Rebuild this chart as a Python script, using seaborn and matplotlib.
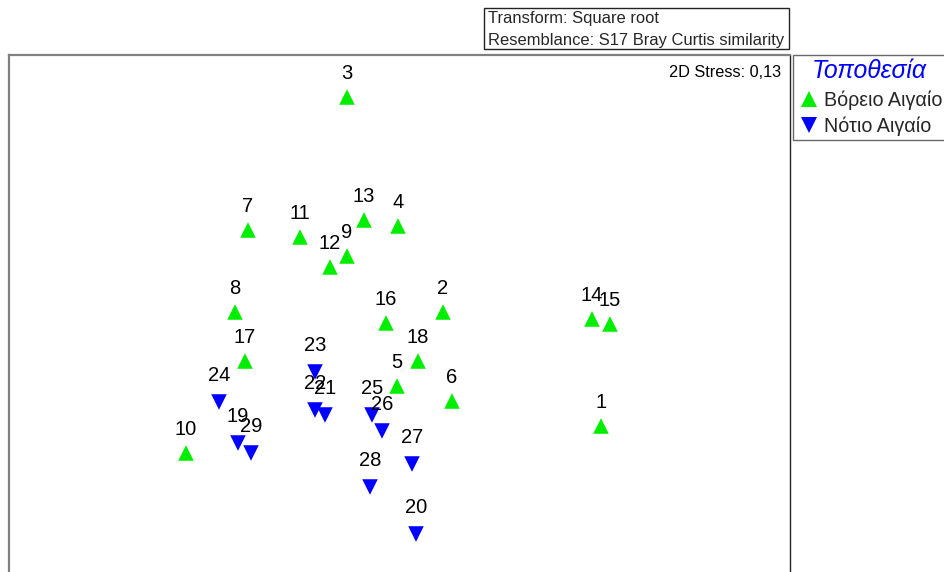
import matplotlib
matplotlib.use("Agg")
import matplotlib.pyplot as plt
from matplotlib.lines import Line2D
from matplotlib.patches import Rectangle
import seaborn as sns
import pandas as pd

# nMDS ordination of the 29 samples (Square root transform, Bray Curtis similarity)
samples = [str(i) for i in range(1, 30)]
mds1 = [0.804, 0.172, -0.212, -0.008, -0.012, 0.208, -0.608, -0.660, -0.212, -0.856,
        -0.400, -0.280, -0.144, 0.768, 0.840, -0.056, -0.620, 0.072, -0.648, 0.064,
        -0.300, -0.340, -0.340, -0.724, -0.112, -0.072, 0.048, -0.120, -0.596]
mds2 = [-0.504, -0.048, 0.812, 0.296, -0.344, -0.404, 0.280, -0.048, 0.176, -0.612,
        0.252, 0.132, 0.320, -0.076, -0.096, -0.092, -0.244, -0.244, -0.572, -0.936,
        -0.460, -0.440, -0.288, -0.408, -0.460, -0.524, -0.656, -0.748, -0.612]
north = "Βόρειο Αιγαίο"
south = "Νότιο Αιγαίο"
location = [north] * 18 + [south] * 11
stress_text = "2D Stress: 0,13"
info_lines = ["Transform: Square root", "Resemblance: S17 Bray Curtis similarity"]
legend_title = "Τοποθεσία"

df = pd.DataFrame({"Sample": samples, "MDS1": mds1, "MDS2": mds2, "Location": location})

sns.set_theme(style="white")
plt.rcParams["font.family"] = ["Liberation Sans", "DejaVu Sans"]

W, H = 944, 572
fig = plt.figure(figsize=(W / 100, H / 100), dpi=100)
ax = fig.add_axes([9 / W, 0, (790 - 9) / W, 1 - 55 / H])

palette = {north: "#00ee00", south: "#0000ff"}
markers = {north: "^", south: "v"}
sns.scatterplot(data=df, x="MDS1", y="MDS2", hue="Location", style="Location",
                palette=palette, markers=markers, s=125, linewidth=0,
                legend=False, ax=ax)

ax.set_xlim(-1.564, 1.56)
ax.set_ylim(-1.088, 0.98)
ax.set_xticks([])
ax.set_yticks([])
ax.set_xlabel("")
ax.set_ylabel("")

# sample labels above each marker
offsets = {north: 17, south: 19}
for _, r in df.iterrows():
    ax.annotate(r["Sample"], (r["MDS1"], r["MDS2"]), xytext=(0, offsets[r["Location"]]),
                textcoords="offset points", ha="center", va="center",
                fontsize=14.5, color="black")

ax.text(0.988, 0.967, stress_text, transform=ax.transAxes, ha="right", va="center",
        fontsize=11.7, color="black")

for side in ["left", "top"]:
    ax.spines[side].set_color("#808080")
    ax.spines[side].set_linewidth(1.6)
ax.spines["right"].set_color("#222222")
ax.spines["right"].set_linewidth(1.0)
ax.spines["bottom"].set_visible(False)

# resemblance info box
fig.patches.append(Rectangle((484 / W, 1 - 49 / H), (789 - 484) / W, 41 / H,
                             transform=fig.transFigure, fill=False,
                             edgecolor="#222222", linewidth=1.0))
fig.text(488 / W, 1 - 18 / H, info_lines[0], ha="left", va="center", fontsize=11.9)
fig.text(488 / W, 1 - 40 / H, info_lines[1], ha="left", va="center", fontsize=11.9)

# legend
handles = [Line2D([], [], linestyle="none", marker=markers[k], markersize=11.5,
                  markerfacecolor=palette[k], markeredgewidth=0) for k in [north, south]]
leg = fig.legend(handles, [north, south], title=legend_title,
                 loc="upper left", bbox_to_anchor=(793 / W, 1 - 55 / H),
                 fontsize=14.2, frameon=True, fancybox=False, edgecolor="#444444",
                 handlelength=1.2, handletextpad=0.15, borderpad=0.2,
                 labelspacing=0.36, borderaxespad=0.0,
                 title_fontproperties={"size": 17.8, "style": "italic"})
leg.get_title().set_color("#0000ff")
leg.get_frame().set_linewidth(1.0)

fig.savefig("out.png", dpi=100)
